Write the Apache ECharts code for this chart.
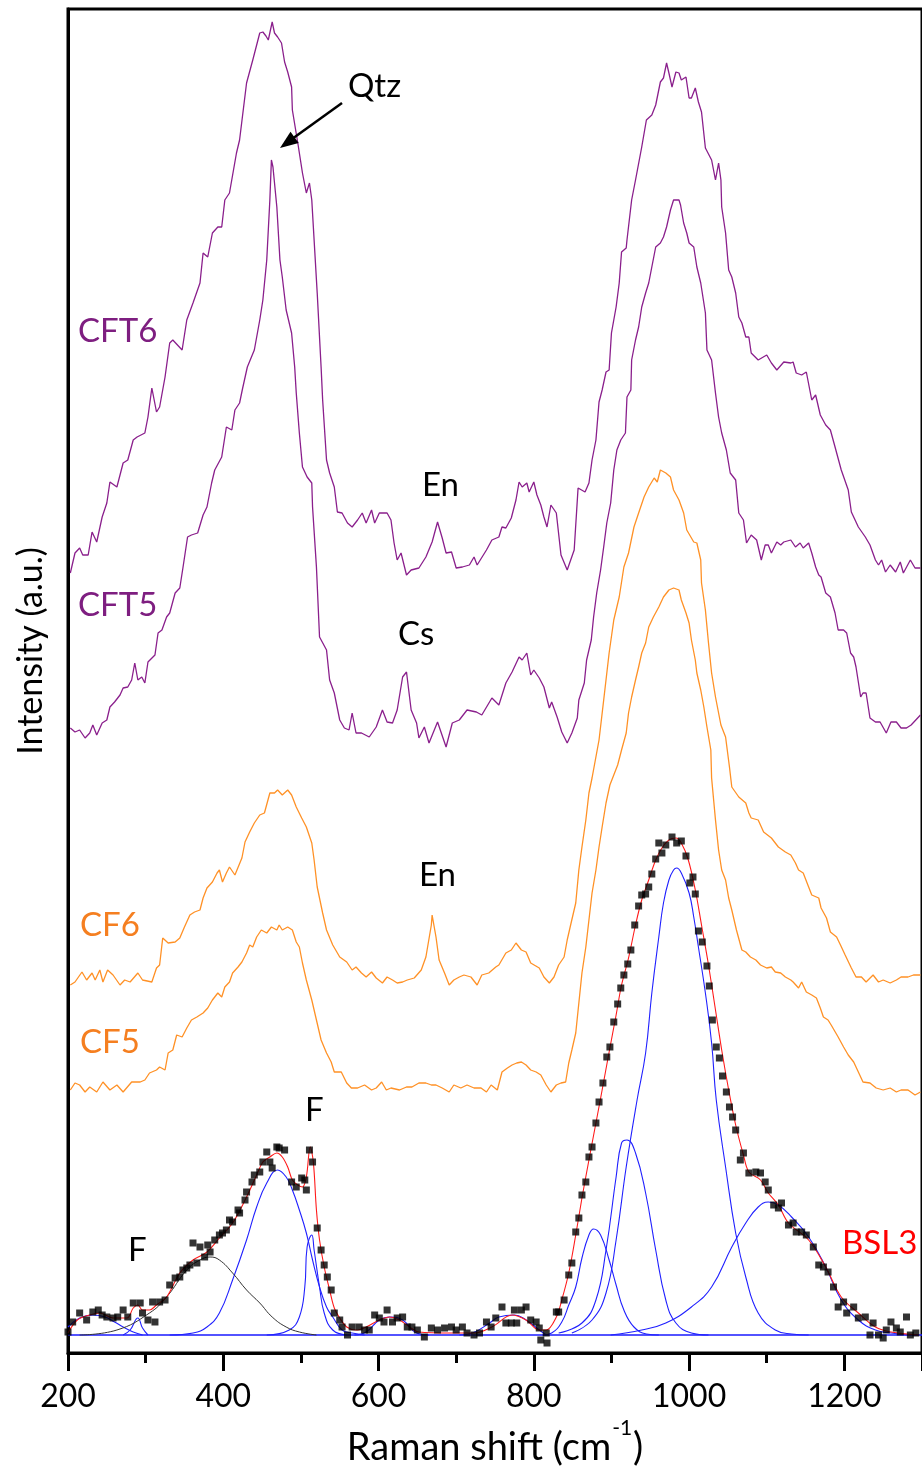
<!DOCTYPE html>
<html>
<head>
<meta charset="utf-8">
<script src="https://cdn.jsdelivr.net/npm/echarts@6/dist/echarts.min.js"></script>
<style>
  html, body { margin: 0; padding: 0; background: #fff; }
  #chart { width: 922px; height: 1477px; }
</style>
</head>
<body>
<div id="chart"></div>
<script>
// Raman spectra, stacked with vertical offsets (intensity in arbitrary units).
// Each trace is a list of [Raman shift (cm-1), intensity] pairs.

const xTickLabels = [200, 400, 600, 800, 1000, 1200];

const cft6 = [
  [203,780],[209,800],[215,805],[219,798],[226,798],[231,821],[237,811],[244,836],[250,850],[254,871],
  [263,866],[271,890],[277,893],[284,913],[289,916],[299,920],[303,936],[308,965],[314,941],[318,946],
  [325,976],[331,1010],[335,1013],[347,1003],[353,1033],[361,1050],[370,1070],[374,1100],[380,1096],[386,1120],
  [393,1126],[398,1126],[402,1153],[408,1160],[417,1200],[421,1213],[430,1270],[438,1293],[447,1320],[451,1321],
  [455,1317],[458,1313],[463,1331],[466,1320],[470,1316],[475,1310],[479,1291],[483,1281],[488,1266],[489,1243],
  [496,1210],[502,1180],[507,1160],[511,1170],[514,1153],[517,1113],[521,1060],[526,986],[528,953],[533,893],
  [537,880],[543,866],[547,841],[553,840],[560,830],[566,826],[573,833],[579,840],[584,830],[591,843],
  [595,830],[601,840],[611,840],[616,833],[620,810],[624,793],[629,800],[636,778],[642,783],[652,785],
  [661,796],[669,811],[676,831],[682,815],[687,800],[694,801],[700,785],[708,786],[717,788],[723,796],
  [727,788],[739,803],[746,813],[755,816],[759,826],[764,825],[771,835],[777,853],[781,871],[785,866],
  [791,870],[794,861],[800,871],[804,858],[809,848],[813,836],[817,826],[822,848],[829,840],[835,798],
  [843,783],[852,803],[857,865],[866,861],[871,870],[875,893],[880,913],[884,951],[888,963],[893,981],
  [897,983],[900,1020],[906,1046],[910,1070],[913,1101],[919,1105],[920,1113],[926,1153],[931,1173],[939,1206],
  [945,1233],[952,1238],[957,1248],[963,1271],[967,1275],[971,1290],[974,1280],[978,1266],[983,1281],[987,1280],
  [990,1273],[996,1276],[1000,1255],[1003,1255],[1008,1265],[1012,1251],[1016,1241],[1021,1205],[1029,1193],[1034,1173],
  [1038,1190],[1041,1173],[1042,1146],[1047,1120],[1051,1083],[1055,1076],[1060,1060],[1064,1036],[1068,1030],[1073,1016],
  [1077,1016],[1080,1000],[1089,993],[1100,998],[1106,990],[1113,983],[1122,991],[1131,990],[1134,991],[1138,980],
  [1145,978],[1151,981],[1158,953],[1163,958],[1169,938],[1176,928],[1182,923],[1188,906],[1196,883],[1205,863],
  [1209,841],[1218,826],[1227,816],[1233,808],[1240,793],[1244,788],[1248,793],[1253,781],[1259,788],[1266,781],
  [1272,791],[1276,780],[1285,793],[1291,785],[1298,785]
];

const cft5 = [
  [203,625],[209,621],[215,623],[222,615],[228,620],[232,628],[237,618],[244,630],[250,633],[254,646],
  [260,651],[267,658],[271,665],[277,666],[282,673],[286,690],[290,673],[295,676],[299,670],[303,691],
  [312,698],[316,720],[321,723],[327,736],[331,740],[338,760],[344,765],[348,785],[354,816],[359,818],
  [367,820],[374,838],[379,846],[385,870],[389,883],[398,896],[404,926],[411,923],[415,943],[421,950],
  [425,965],[431,986],[440,1003],[447,1033],[451,1053],[456,1093],[460,1153],[462,1193],[464,1186],[469,1146],
  [473,1093],[476,1076],[481,1043],[488,1020],[492,986],[494,960],[498,920],[502,886],[508,876],[514,870],
  [515,846],[520,786],[524,716],[533,703],[537,673],[543,660],[550,633],[556,625],[562,623],[566,640],
  [571,620],[578,620],[588,616],[597,626],[605,643],[611,631],[618,630],[624,643],[631,676],[636,681],
  [642,643],[649,630],[652,615],[659,626],[665,610],[676,631],[687,606],[695,630],[704,633],[714,643],
  [726,641],[733,638],[746,655],[755,648],[764,670],[772,681],[781,696],[785,693],[791,700],[796,678],
  [800,683],[807,675],[813,666],[820,645],[823,651],[830,636],[836,621],[843,610],[849,620],[856,635],
  [858,653],[865,670],[868,693],[874,713],[877,736],[881,760],[886,783],[890,806],[894,830],[899,850],
  [903,883],[907,903],[912,913],[918,920],[920,956],[925,963],[926,993],[931,1013],[935,1026],[939,1046],
  [944,1060],[948,1070],[952,1086],[957,1106],[963,1110],[967,1116],[971,1126],[976,1143],[980,1153],[987,1153],
  [989,1148],[993,1130],[997,1120],[1000,1110],[1006,1106],[1010,1086],[1015,1070],[1021,1040],[1023,1003],[1029,993],
  [1034,960],[1038,936],[1042,920],[1048,903],[1053,880],[1060,873],[1064,840],[1070,833],[1074,810],[1080,818],
  [1087,813],[1093,793],[1098,808],[1102,808],[1106,800],[1113,811],[1118,808],[1122,811],[1131,813],[1137,806],
  [1143,810],[1147,805],[1154,810],[1158,800],[1163,786],[1167,778],[1170,776],[1176,760],[1182,756],[1188,740],
  [1192,723],[1199,723],[1203,720],[1208,700],[1212,696],[1215,686],[1221,656],[1224,660],[1228,660],[1233,635],
  [1240,631],[1246,631],[1254,620],[1260,631],[1267,631],[1273,625],[1280,625],[1286,628],[1298,638]
];

const cf6 = [
  [203,368],[209,371],[218,381],[224,373],[231,380],[235,373],[241,383],[245,371],[251,383],[258,378],
  [267,368],[273,373],[280,371],[290,380],[296,373],[308,371],[314,385],[318,388],[322,415],[329,410],
  [338,411],[344,415],[350,426],[357,438],[363,441],[370,443],[374,455],[379,465],[386,471],[392,480],
  [395,483],[399,471],[404,480],[408,486],[415,478],[424,495],[428,511],[434,521],[440,530],[447,538],
  [453,540],[460,560],[466,560],[470,563],[476,558],[483,563],[488,558],[494,546],[501,535],[507,526],
  [514,510],[517,493],[521,466],[528,440],[533,423],[541,408],[550,396],[559,391],[566,383],[571,386],
  [578,380],[584,376],[591,381],[597,375],[605,370],[611,376],[618,373],[624,370],[631,371],[637,373],
  [646,375],[655,383],[661,396],[668,428],[669,438],[674,416],[678,393],[685,380],[691,368],[697,373],
  [704,376],[710,378],[719,376],[727,368],[733,378],[742,380],[751,386],[755,388],[764,400],[771,403],
  [777,410],[784,403],[790,401],[796,390],[807,385],[813,376],[820,370],[826,376],[832,388],[839,396],
  [843,413],[848,430],[854,450],[858,483],[862,506],[867,533],[871,560],[875,575],[884,613],[890,653],
  [897,700],[903,733],[910,756],[916,786],[922,800],[929,826],[935,840],[942,856],[948,866],[955,875],
  [959,871],[963,883],[970,880],[976,876],[980,863],[987,853],[993,840],[997,823],[1006,811],[1010,810],
  [1015,793],[1016,770],[1021,743],[1025,710],[1029,680],[1034,656],[1041,628],[1047,616],[1052,586],[1055,566],
  [1064,556],[1073,550],[1077,540],[1080,535],[1089,533],[1096,521],[1106,515],[1115,506],[1124,501],[1131,498],
  [1137,490],[1141,483],[1147,480],[1154,466],[1158,458],[1167,455],[1170,445],[1177,435],[1182,421],[1190,416],
  [1195,408],[1201,398],[1209,385],[1215,376],[1222,376],[1228,371],[1237,378],[1244,371],[1250,373],[1259,370],
  [1267,373],[1273,376],[1282,376],[1289,378],[1298,378]
];

const cf5 = [
  [203,263],[209,270],[215,268],[222,261],[228,266],[237,261],[245,271],[254,263],[263,268],[271,261],
  [282,271],[293,271],[299,273],[305,280],[314,283],[318,286],[325,283],[329,300],[335,303],[340,318],
  [347,316],[353,325],[359,333],[366,336],[374,340],[380,345],[386,353],[393,360],[398,356],[402,366],
  [408,371],[412,380],[419,386],[424,391],[430,400],[434,408],[438,406],[443,416],[449,423],[456,420],
  [462,426],[469,423],[472,428],[476,423],[483,426],[489,423],[494,411],[498,406],[502,390],[507,373],
  [514,353],[520,333],[526,313],[533,300],[539,291],[543,281],[552,281],[559,270],[565,265],[573,265],
  [582,268],[591,263],[597,265],[604,271],[610,263],[616,265],[627,263],[636,266],[643,266],[652,270],
  [661,270],[668,268],[674,268],[682,265],[691,261],[697,268],[706,265],[714,268],[723,265],[732,265],
  [739,261],[745,268],[753,263],[759,281],[766,285],[772,288],[778,290],[784,291],[790,288],[796,283],
  [803,281],[809,278],[816,268],[822,261],[829,268],[835,270],[841,271],[845,290],[849,303],[854,320],
  [858,350],[862,380],[867,406],[871,433],[875,460],[880,483],[884,506],[888,526],[893,550],[898,568],
  [903,578],[908,588],[913,603],[919,620],[922,640],[926,656],[931,673],[935,686],[939,700],[944,710],
  [948,726],[954,736],[961,746],[967,756],[974,763],[980,765],[987,763],[990,753],[996,740],[1000,730],
  [1003,713],[1008,693],[1010,680],[1015,663],[1019,646],[1023,626],[1028,603],[1029,575],[1034,533],[1038,503],
  [1042,483],[1047,473],[1051,455],[1055,443],[1061,423],[1068,403],[1073,401],[1079,396],[1086,393],[1092,388],
  [1100,385],[1106,386],[1111,381],[1118,380],[1124,376],[1131,373],[1134,371],[1141,365],[1145,371],[1151,361],
  [1158,358],[1164,355],[1169,345],[1173,336],[1179,333],[1183,328],[1192,316],[1199,306],[1205,298],[1212,291],
  [1218,281],[1224,271],[1233,270],[1241,265],[1250,263],[1259,265],[1267,261],[1273,263],[1282,263],[1291,258],
  [1298,261]
];

// BSL3: measured points, cumulative fit, baseline and fitted bands
const bsl3Points = [
  [200,21],[206,31],[215,40],[224,33],[232,41],[239,43],[244,38],[250,36],[258,35],[264,36],
  [271,43],[277,36],[284,50],[293,50],[296,40],[303,33],[312,31],[309,51],[318,51],[325,53],
  [331,68],[338,75],[344,76],[348,83],[353,85],[357,88],[361,110],[366,90],[370,106],[376,96],
  [380,108],[383,101],[389,113],[395,118],[399,120],[404,123],[408,133],[412,131],[419,143],[421,140],
  [428,153],[430,161],[437,171],[440,178],[447,181],[451,191],[456,201],[460,191],[463,185],[469,206],
  [472,205],[479,203],[488,171],[494,166],[501,175],[505,173],[507,163],[511,203],[515,191],[521,125],
  [526,103],[530,88],[534,76],[539,63],[543,40],[550,33],[553,26],[560,18],[566,26],[575,26],
  [582,23],[588,23],[595,38],[601,35],[607,31],[611,43],[618,31],[624,35],[631,36],[637,26],
  [643,26],[650,23],[659,16],[668,25],[676,23],[685,25],[694,26],[700,23],[708,26],[714,20],
  [723,18],[730,20],[739,31],[745,26],[751,35],[759,46],[764,30],[771,30],[775,43],[778,30],
  [784,43],[790,46],[796,33],[803,31],[807,25],[809,13],[816,20],[817,10],[829,41],[832,41],
  [839,53],[845,78],[849,90],[854,121],[858,135],[862,158],[867,171],[871,196],[875,206],[880,230],
  [884,251],[889,270],[894,296],[898,306],[903,331],[908,349],[912,365],[916,378],[921,389],[925,403],
  [930,428],[935,447],[939,458],[944,459],[948,466],[952,479],[957,494],[961,510],[965,500],[970,508],
  [978,516],[984,510],[990,512],[996,497],[1001,470],[1005,476],[1008,459],[1012,422],[1017,411],[1023,387],
  [1026,367],[1030,333],[1035,306],[1039,295],[1043,277],[1048,261],[1052,246],[1056,236],[1060,223],[1066,193],
  [1070,200],[1077,180],[1086,181],[1092,180],[1098,171],[1102,163],[1109,148],[1115,145],[1119,150],[1128,128],
  [1134,130],[1138,121],[1145,121],[1151,118],[1160,106],[1167,88],[1173,86],[1179,81],[1186,66],[1192,46],
  [1199,51],[1203,40],[1212,46],[1218,35],[1227,36],[1233,18],[1237,30],[1244,18],[1250,15],[1254,23],
  [1260,31],[1267,25],[1272,21],[1280,36],[1285,18],[1292,20]
];

const bsl3Fit = [
  [200,20],[212,33],[228,38],[241,40],[258,35],[276,35],[284,45],[290,48],[296,43],[305,43],
  [314,48],[327,56],[344,80],[361,93],[379,101],[395,115],[412,130],[430,156],[443,178],[451,191],
  [460,196],[469,200],[476,196],[483,186],[489,173],[496,168],[502,166],[507,176],[512,206],[516,191],
  [520,143],[524,113],[530,86],[537,63],[543,45],[550,35],[559,26],[571,23],[584,26],[601,33],
  [614,36],[627,33],[640,26],[652,21],[691,20],[723,20],[746,26],[772,38],[790,33],[807,23],
  [816,23],[829,36],[836,53],[845,80],[854,118],[862,155],[871,193],[880,230],[888,263],[897,301],
  [906,338],[913,368],[922,395],[931,428],[939,453],[948,473],[957,493],[965,505],[974,513],[983,515],
  [990,510],[999,493],[1008,463],[1016,428],[1025,388],[1034,343],[1042,303],[1051,263],[1060,228],[1070,198],
  [1077,181],[1092,173],[1102,160],[1115,148],[1128,130],[1154,113],[1176,86],[1196,56],[1218,40],[1240,26],
  [1260,21],[1295,18]
];

const bsl3Baseline = [[200,18],[1300,18]];

const bandNear240 = [[200,26],[215,35],[232,38],[248,36],[260,31],[271,26],[284,21],[296,18]];
const bandNear290 = [[271,18],[280,23],[290,35],[296,25],[303,18]];
const bandNear383 = [
  [215,18],[263,23],[305,40],[327,56],[353,83],[370,93],[383,96],[395,93],[412,80],[430,63],
  [447,50],[463,36],[481,26],[498,21],[520,18]
];
const bandNear470 = [
  [331,18],[361,20],[379,26],[395,40],[412,73],[430,113],[443,146],[456,170],[470,183],[481,176],
  [489,163],[498,143],[507,120],[515,93],[524,66],[533,46],[541,36],[553,23],[566,20],[582,18]
];
const bandNear514 = [[456,18],[485,23],[498,36],[505,66],[508,106],[514,118],[517,103],[524,66],[530,40],[541,23],[559,18]];
const bandNear614 = [[569,18],[584,21],[601,33],[614,36],[631,33],[649,20],[665,18]];
const bandNear775 = [[704,18],[721,20],[743,30],[755,36],[775,38],[790,33],[807,23],[816,18]];
const bandNear877 = [
  [811,18],[823,20],[836,31],[845,48],[854,66],[862,95],[871,118],[877,124],[886,118],[897,93],
  [906,68],[916,43],[929,26],[945,19],[961,18]
];
const bandNear920 = [
  [832,20],[862,30],[880,53],[893,103],[906,176],[913,210],[920,213],[931,200],[944,160],[957,103],
  [970,53],[983,30],[1003,20],[1025,18]
];
const bandNear984 = [
  [849,20],[875,33],[893,60],[906,113],[919,186],[933,253],[944,300],[952,360],[961,416],[967,450],
  [974,473],[980,483],[984,485],[990,480],[1000,460],[1006,436],[1012,406],[1021,360],[1029,310],[1035,253],
  [1047,186],[1060,120],[1073,76],[1089,40],[1111,23],[1132,19],[1154,18]
];
const bandNear1102 = [
  [899,18],[939,23],[970,30],[1003,46],[1029,66],[1055,106],[1073,130],[1089,146],[1102,151],[1115,148],
  [1132,136],[1154,116],[1176,86],[1196,53],[1218,33],[1240,23],[1260,20],[1282,18]
];

const PURPLE = '#8A1F8C';
const PURPLE_TEXT = '#7E1E80';
const ORANGE = '#FF9126';
const ORANGE_TEXT = '#F57F20';
const FONT = 'Lato';

function trace(name, data, color, width, smooth) {
  return {
    name, type: 'line', data, showSymbol: false, smooth: smooth || false,
    lineStyle: { color, width }, itemStyle: { color }, animation: false, silent: true
  };
}

const blueBands = [bandNear240, bandNear290, bandNear470, bandNear514, bandNear614,
  bandNear775, bandNear877, bandNear920, bandNear984, bandNear1102];

const series = [
  trace('CFT6', cft6, PURPLE, 1.3),
  trace('CFT5', cft5, PURPLE, 1.3),
  trace('CF6', cf6, ORANGE, 1.3),
  trace('CF5', cf5, ORANGE, 1.3),
  trace('baseline', bsl3Baseline, '#1a1aff', 1.4),
  ...blueBands.map((b, i) => trace('band' + i, b, '#2020ff', 1.1, 0.45)),
  trace('band383', bandNear383, '#333333', 1.0, 0.45),
  trace('fit', bsl3Fit, '#ff1a1a', 1.1, 0.35),
  {
    name: 'BSL3', type: 'scatter', data: bsl3Points, symbol: 'rect', symbolSize: 7,
    itemStyle: { color: '#000' }, animation: false, silent: true, z: 5
  }
];

function label(text, x, y, color, size) {
  return {
    type: 'text', silent: true, z: 10,
    style: {
      text, x, y, fill: color, fontSize: size || 33, fontFamily: FONT,
      align: 'left', textAlign: 'left', verticalAlign: 'middle', textVerticalAlign: 'middle'
    }
  };
}

const chart = echarts.init(document.getElementById('chart'), null, { renderer: 'canvas' });
chart.setOption({
  animation: false,
  backgroundColor: '#fff',
  grid: {
    left: 68, top: 9, width: 856, height: 1344,
    show: true, borderColor: '#000', borderWidth: 3, backgroundColor: 'transparent'
  },
  xAxis: {
    type: 'value', min: 200, max: 1300, interval: 200,
    axisLine: { show: true, lineStyle: { color: '#000', width: 3 } },
    axisTick: { show: true, inside: false, length: 18, lineStyle: { color: '#000', width: 3 } },
    minorTick: { show: true, splitNumber: 2, length: 10, lineStyle: { color: '#000', width: 3 } },
    splitLine: { show: false },
    axisLabel: {
      show: true, margin: 28, color: '#000', fontSize: 32, fontFamily: FONT,
      showMaxLabel: false,
      formatter: v => (xTickLabels.indexOf(v) >= 0 ? String(v) : '')
    },
    name: 'Raman shift (cm{s|-1})',
    nameLocation: 'middle', nameGap: 60,
    nameTextStyle: {
      color: '#000', fontSize: 38, fontFamily: FONT, verticalAlign: 'bottom',
      rich: { s: { fontSize: 21, fontFamily: FONT, color: '#000', verticalAlign: 'top', padding: [0, 1, 38, 1] } }
    }
  },
  yAxis: {
    type: 'value', min: 0, max: 1344,
    axisLine: { show: true, lineStyle: { color: '#000', width: 3 } },
    axisTick: { show: false }, axisLabel: { show: false }, splitLine: { show: false }
  },
  graphic: [
    {
      type: 'text', silent: true, rotation: Math.PI / 2, x: 31, y: 651,
      style: {
        text: 'Intensity (a.u.)', fill: '#000', fontSize: 34, fontFamily: FONT,
        align: 'center', textAlign: 'center', verticalAlign: 'middle', textVerticalAlign: 'middle'
      }
    },
    label('CFT6', 78, 331, PURPLE_TEXT),
    label('CFT5', 78, 605, PURPLE_TEXT),
    label('CF6', 80, 925, ORANGE_TEXT),
    label('CF5', 80, 1042, ORANGE_TEXT),
    label('BSL3', 842, 1243, '#ff0000'),
    label('Qtz', 348, 86, '#000'),
    label('En', 422, 485, '#000'),
    label('Cs', 398, 634, '#000'),
    label('En', 419, 875, '#000'),
    label('F', 305, 1110, '#000'),
    label('F', 128, 1250, '#000'),
    {
      type: 'line', silent: true, z: 10,
      shape: { x1: 342, y1: 103, x2: 292, y2: 139 },
      style: { stroke: '#000', lineWidth: 2.5 }
    },
    {
      type: 'polygon', silent: true, z: 10,
      shape: { points: [[280, 148], [298.7, 143.1], [290.5, 131.7]] },
      style: { fill: '#000' }
    }
  ],
  series
});
</script>
</body>
</html>
